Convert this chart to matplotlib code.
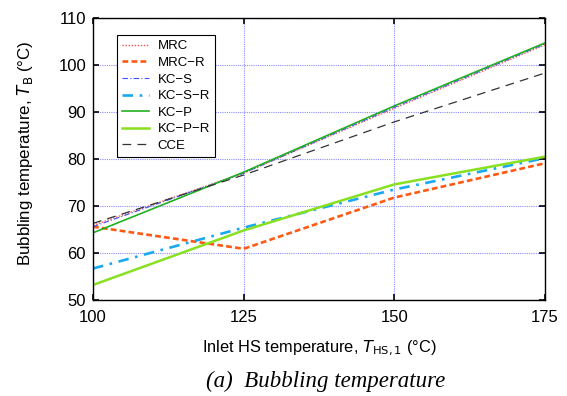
import matplotlib
matplotlib.use("Agg")
import matplotlib.pyplot as plt

x = [100, 125, 150, 175]
mrc    = [65.9, 77.0, 90.8, 104.3]
mrc_r  = [65.6, 60.9, 71.8, 79.1]
kc_s   = [65.6, 77.0, 91.0, 104.5]
kc_s_r = [56.7, 65.4, 73.5, 80.2]
kc_p   = [64.3, 77.2, 91.3, 104.7]
kc_p_r = [53.2, 64.8, 74.6, 80.5]
cce    = [66.3, 76.6, 87.9, 98.3]

xticks = [100, 125, 150, 175]
yticks = [50, 60, 70, 80, 90, 100, 110]

plt.rcParams['font.family'] = ['Liberation Sans', 'DejaVu Sans']
fig = plt.figure(figsize=(5.67, 3.96), dpi=100)
ax = fig.add_axes([0.164, 0.2424, 0.797, 0.712])

ax.plot(x, mrc, color='#ff5050', ls=(0, (1, 1.2)), lw=1.0, label='MRC')
ax.plot(x, mrc_r, color='#ff5a14', ls=(0, (2.2, 1.2)), lw=1.9, label='MRC\u2212R')
ax.plot(x, kc_s, color='#3a55ff', ls=(0, (5, 2, 1, 2)), lw=0.8, label='KC\u2212S')
ax.plot(x, kc_s_r, color='#1aa8f0', ls=(0, (4, 2.5, 1, 2.5)), lw=1.9, label='KC\u2212S\u2212R')
ax.plot(x, kc_p, color='#22b022', ls='-', lw=1.2, label='KC\u2212P')
ax.plot(x, kc_p_r, color='#88e020', ls='-', lw=1.8, label='KC\u2212P\u2212R')
ax.plot(x, cce, color='#333333', ls=(0, (7, 5)), lw=0.9, label='CCE')

ax.set_xlim(100, 175)
ax.set_ylim(50, 110)
ax.set_xticks(xticks)
ax.set_yticks(yticks)
ax.tick_params(direction='in', length=4, width=1.2, top=True, right=True, labelsize=12)
ax.tick_params(axis='x', pad=7)
ax.tick_params(axis='y', pad=5)
ax.grid(True, color='#7070ff', ls=(0, (1, 1)), lw=0.8, alpha=0.8)
for s in ax.spines.values():
    s.set_linewidth(1.0)

ax.set_xlabel('Inlet HS temperature, $T_{\\mathrm{HS,1}}$ (\u00b0C)', fontsize=11.8, labelpad=10)
ax.set_ylabel('Bubbling temperature, $T_{\\mathrm{B}}$ (\u00b0C)', fontsize=12.2)
ax.yaxis.set_label_coords(-0.128, 0.52)

leg = ax.legend(loc='upper left', bbox_to_anchor=(0.053, 0.94), fontsize=9.5,
                frameon=True, fancybox=False, edgecolor='black', framealpha=1,
                handlelength=2.0, handletextpad=0.7, labelspacing=0.33, borderpad=0.4,
                borderaxespad=0)
leg.get_frame().set_linewidth(0.8)

fig.text(0.575, 1 - 381 / 396, '(a)  Bubbling temperature', ha='center', va='center',
         fontsize=16.5, style='italic', family='Liberation Serif')

fig.savefig('out.png', dpi=100)
